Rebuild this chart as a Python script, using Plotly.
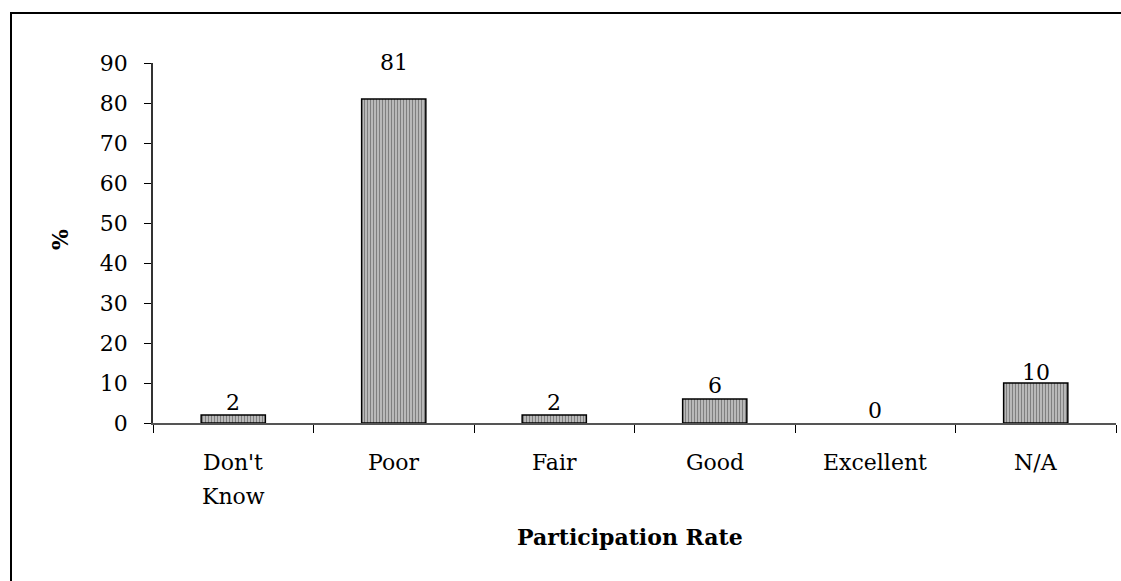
import plotly.graph_objects as go

categories = ["Don't Know", "Poor", "Fair", "Good", "Excellent", "N/A"]
values = [2, 81, 2, 6, 0, 10]
y_ticks = [0, 10, 20, 30, 40, 50, 60, 70, 80, 90]
x_title = "Participation Rate"
y_title = "%"

FONT = "DejaVu Serif"
FS = 22
W, H = 1121, 581
L, R, T, B = 153, 5, 63, 158
PW, PH = W - L - R, H - T - B

fig = go.Figure()
fig.add_trace(go.Bar(
    x=categories,
    y=values,
    width=0.4,
    marker=dict(
        color="white",
        line=dict(color="black", width=[1.5 if v > 0 else 0 for v in values]),
        pattern=dict(shape="|", size=3, solidity=0.7, fgcolor="black", bgcolor="white"),
    ),
    hoverinfo="skip",
))

# value labels
label_shift = [13, 37, 13, 14, 13, 11]
for i, v in enumerate(values):
    fig.add_annotation(x=categories[i], y=v, xref="x", yref="y", text=str(v), showarrow=False,
                       yshift=label_shift[i], yanchor="middle",
                       font=dict(family=FONT, size=FS, color="black"))

# category labels (multi-line)
for i, c in enumerate(categories):
    lines = c.split(" ") if c == "Don't Know" else [c]
    for j, line in enumerate(lines):
        ypx = 39 + 34 * j
        fig.add_annotation(x=c, y=-ypx / PH, xref="x", yref="paper", text=line,
                           showarrow=False, yanchor="middle",
                           font=dict(family=FONT, size=FS, color="black"))

# axis titles
fig.add_annotation(x=(630 - L) / PW, y=-(537 - (H - B)) / PH,
                   xref="paper", yref="paper", text="<b>" + x_title + "</b>", showarrow=False,
                   yanchor="middle", font=dict(family=FONT, size=FS, color="black"))
fig.add_annotation(x=(60 - L) / PW, y=(H - B - 240) / PH, xref="paper", yref="paper",
                   text="<b>" + y_title + "</b>", showarrow=False, textangle=-90,
                   xanchor="center", yanchor="middle",
                   font=dict(family=FONT, size=FS, color="black"))

# outer border
fig.add_shape(type="rect", xref="paper", yref="paper",
              x0=(11 - L) / PW, x1=(W + 5 - L) / PW,
              y0=-(H + 5 - (H - B)) / PH, y1=(H - B - 13) / PH,
              line=dict(color="black", width=2), layer="below")

fig.update_layout(
    width=W, height=H,
    margin=dict(l=L, r=R, t=T, b=B),
    paper_bgcolor="white", plot_bgcolor="white",
    showlegend=False,
    bargap=0.6,
    font=dict(family=FONT, size=FS, color="black"),
    xaxis=dict(
        type="category",
        range=[-0.5, len(categories) - 0.5],
        showticklabels=False,
        tickson="boundaries", ticks="outside", ticklen=8, tickcolor="black",
        showline=True, linecolor="#555555", linewidth=1.5,
        showgrid=False, zeroline=False, fixedrange=True,
    ),
    yaxis=dict(
        range=[0, 90],
        tickmode="array", tickvals=y_ticks, ticktext=[str(t) for t in y_ticks],
        ticks="outside", ticklen=7, tickcolor="black",
        ticklabelstandoff=12,
        showline=True, linecolor="#333333", linewidth=1.5,
        showgrid=False, zeroline=False, fixedrange=True,
        tickfont=dict(family=FONT, size=FS, color="black"),
    ),
)

fig.write_html("out.html", config={"displayModeBar": False},
               post_script="document.body.style.margin='0';document.body.style.overflow='hidden';")
